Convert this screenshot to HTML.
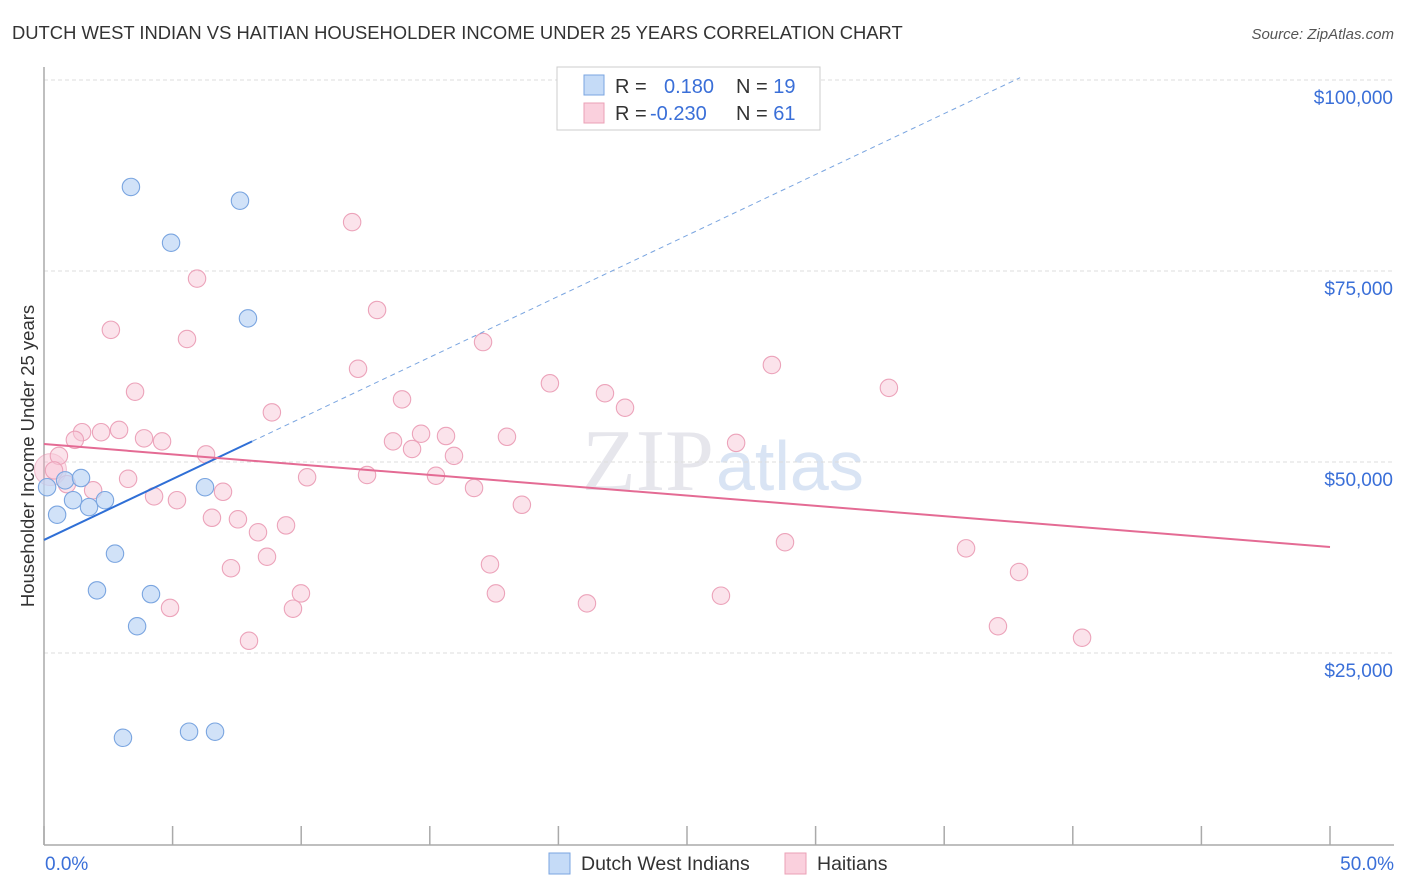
<!DOCTYPE html>
<html><head><meta charset="utf-8"><style>
body{margin:0;background:#fff;font-family:"Liberation Sans",sans-serif;}
#wrap{position:relative;width:1406px;height:892px;overflow:hidden;}
</style></head><body>
<div id="wrap">
<svg id="svg" width="1406" height="892">
<text x="12" y="39" font-size="18.4" fill="#333">DUTCH WEST INDIAN VS HAITIAN HOUSEHOLDER INCOME UNDER 25 YEARS CORRELATION CHART</text>
<text x="1394" y="39" font-size="15" fill="#555" font-style="italic" text-anchor="end">Source: ZipAtlas.com</text>
<text x="714" y="490" font-size="88" fill="#e6e6ec" text-anchor="end" font-family="Liberation Serif,serif">ZIP</text>
<text x="716" y="490" font-size="70" fill="#d9e4f4">atlas</text>
<g id="grid"></g>
<g id="axes"></g>
<g id="pts"></g>
<g id="trend"></g>
<text transform="translate(34,456) rotate(-90)" font-size="18.5" fill="#333" text-anchor="middle">Householder Income Under 25 years</text>
<rect x="557" y="67" width="263" height="63" fill="#fff" stroke="#ccc"/>
<rect x="584" y="75" width="20" height="20" fill="#c5dbf7" stroke="#7aa5e0"/>
<rect x="584" y="103" width="20" height="20" fill="#fad0dd" stroke="#eba0b6"/>
<text x="615" y="93" font-size="20" fill="#333">R = <tspan x="664" fill="#3a6fd8">0.180</tspan><tspan x="736" fill="#333">N = </tspan><tspan fill="#3a6fd8">19</tspan></text>
<text x="615" y="120" font-size="20" fill="#333">R = <tspan x="650" fill="#3a6fd8">-0.230</tspan><tspan x="736" fill="#333">N = </tspan><tspan fill="#3a6fd8">61</tspan></text>
<rect x="549" y="853" width="21" height="21" fill="#c5dbf7" stroke="#7aa5e0"/>
<text x="581" y="870" font-size="19.5" fill="#333">Dutch West Indians</text>
<rect x="785" y="853" width="21" height="21" fill="#fad0dd" stroke="#eba0b6"/>
<text x="817" y="870" font-size="19.5" fill="#333">Haitians</text>
<text x="45" y="870" font-size="19" fill="#3a6fd8">0.0%</text>
<text x="1394" y="870" font-size="19" fill="#3a6fd8" text-anchor="end">50.0%</text>
</svg>
</div>
<script>
const yTicks=[100000,75000,50000,25000];
const yTickLabels=["$100,000","$75,000","$50,000","$25,000"];
const xTicks=[0,5,10,15,20,25,30,35,40,45,50];
const blueX=[3.38,7.62,4.94,7.93,0.82,0.12,1.44,1.13,1.75,2.37,0.51,6.26,2.76,2.06,4.16,3.62,3.07,5.64,6.65];
const blueY=[86000,84200,78700,68800,47600,46700,47900,45000,44100,45000,43100,46700,38000,33200,32700,28500,13900,14700,14700];
const pinkX=[11.98,5.95,12.95,2.60,5.56,17.07,12.21,28.30,19.67,3.54,32.85,21.81,13.92,22.59,8.86,2.92,2.22,1.48,1.20,3.89,4.59,13.57,14.66,15.63,14.31,18.00,26.91,6.30,0.58,15.94,0.39,10.23,12.56,15.24,3.27,0.89,1.91,6.96,16.72,4.28,5.17,18.58,6.53,7.54,8.32,9.41,8.67,28.81,35.85,7.27,17.34,37.91,9.99,17.57,26.32,4.90,9.68,21.11,37.09,40.36,7.97];
const pinkY=[81400,74000,69900,67300,66100,65700,62200,62700,60300,59200,59700,59000,58200,57100,56500,54200,53900,53900,52900,53100,52700,52700,53700,53400,51700,53300,52500,51000,50800,50800,48900,48000,48300,48200,47800,47100,46300,46100,46600,45500,45000,44400,42700,42500,40800,41700,37600,39500,38700,36100,36600,35600,32800,32800,32500,30900,30800,31500,28500,27000,26600];
const blueTrend=[[0,39800],[8.09,52700],[37.95,100300]];
const pinkTrend=[[0,52350],[50,38870]];
const X=p=>44+p*25.72;
const Y=v=>80+(100000-v)/25000*191;
const NS="http://www.w3.org/2000/svg";
function mk(tag,attrs,parent){const e=document.createElementNS(NS,tag);for(const k in attrs)e.setAttribute(k,attrs[k]);document.getElementById(parent).appendChild(e);return e;}
yTicks.forEach((v,i)=>{
 const l=mk('line',{x1:44,x2:1394,y1:Y(v),y2:Y(v),stroke:'#ddd','stroke-dasharray':'4,3'},'grid');
 
 
 const t=mk('text',{x:1393,y:Y(v)+24,'font-size':19,fill:'#3a6fd8','text-anchor':'end'},'grid');
 t.textContent=yTickLabels[i];
 
 
});
let a=mk('line',{x1:44,x2:44,y1:67,y2:845,stroke:'#aaa','stroke-width':1.5},'axes');


a=mk('line',{x1:44,x2:1394,y1:845,y2:845,stroke:'#aaa','stroke-width':1.5},'axes');


xTicks.forEach(p=>{const t=mk('line',{x1:X(p),x2:X(p),y1:826,y2:845,stroke:'#aaa','stroke-width':1.5},'axes');
 
 });
let big=mk('circle',{cx:X(0.25),cy:Y(49000),r:16,fill:'rgba(245,170,195,0.35)',stroke:'rgba(230,140,170,0.5)'},'pts');


pinkX.forEach((p,i)=>{const c=mk('circle',{cx:X(p),cy:Y(pinkY[i]),r:8.7,fill:'rgba(248,200,215,0.5)',stroke:'#eca3ba','stroke-width':1.1},'pts');
 
 });
blueX.forEach((p,i)=>{const c=mk('circle',{cx:X(p),cy:Y(blueY[i]),r:8.7,fill:'rgba(190,214,245,0.7)',stroke:'#7aa5e0','stroke-width':1.1},'pts');
 
 });
let t1=mk('line',{x1:X(blueTrend[0][0]),y1:Y(blueTrend[0][1]),x2:X(blueTrend[1][0]),y2:Y(blueTrend[1][1]),stroke:'#2f6fd6','stroke-width':2},'trend');


let t2=mk('line',{x1:X(blueTrend[1][0]),y1:Y(blueTrend[1][1]),x2:X(blueTrend[2][0]),y2:Y(blueTrend[2][1]),stroke:'#7aa5e0','stroke-width':1,'stroke-dasharray':'5,4'},'trend');


let t3=mk('line',{x1:X(pinkTrend[0][0]),y1:Y(pinkTrend[0][1]),x2:X(pinkTrend[1][0]),y2:Y(pinkTrend[1][1]),stroke:'#e46b94','stroke-width':2},'trend');


</script>
</body></html>
